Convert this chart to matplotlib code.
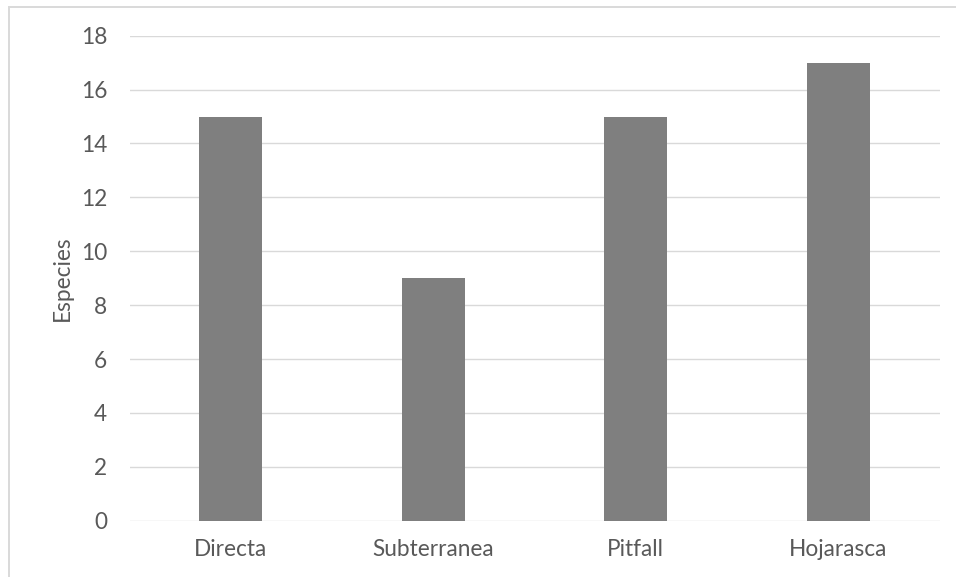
import matplotlib
matplotlib.use("Agg")
import matplotlib.pyplot as plt
from matplotlib.patches import Rectangle

categories = ["Directa", "Subterranea", "Pitfall", "Hojarasca"]
especies = [15, 9, 15, 17]
y_ticks = [0, 2, 4, 6, 8, 10, 12, 14, 16, 18]

W, H = 956, 577
plt.rcParams["font.family"] = ["Lato", "DejaVu Sans"]

fig = plt.figure(figsize=(W / 100, H / 100), dpi=100)
fig.patch.set_facecolor("white")

# chart-area frame (top and left edges visible)
fig.add_artist(Rectangle((8.5 / W, -0.05), 1.2, (H - 6.5) / H + 0.05,
                         transform=fig.transFigure, fill=False,
                         edgecolor="#d9d9d9", linewidth=1.4))

left, right = 129.5 / W, 939.5 / W
bottom, top = (H - 520.7) / H, (H - 35.7) / H
ax = fig.add_axes([left, bottom, right - left, top - bottom])

x = range(len(categories))
ax.bar(x, especies, width=0.313, color="#7f7f7f", zorder=3)

ax.set_xlim(-0.5, len(categories) - 0.5)
ax.set_ylim(0, 18)
ax.set_yticks(y_ticks)
ax.set_xticks(list(x))
ax.set_xticklabels(categories)
ax.yaxis.grid(True, color="#d9d9d9", linewidth=1.0, zorder=0)
ax.set_axisbelow(True)
for s in ax.spines.values():
    s.set_visible(False)
ax.tick_params(axis="both", length=0, labelsize=16.3, colors="#595959")
ax.tick_params(axis="y", pad=16)
ax.tick_params(axis="x", pad=13)
ax.set_ylabel("Especies", fontsize=16.3, color="#595959", labelpad=6)

fig.savefig("out.png", dpi=100, facecolor="white")
